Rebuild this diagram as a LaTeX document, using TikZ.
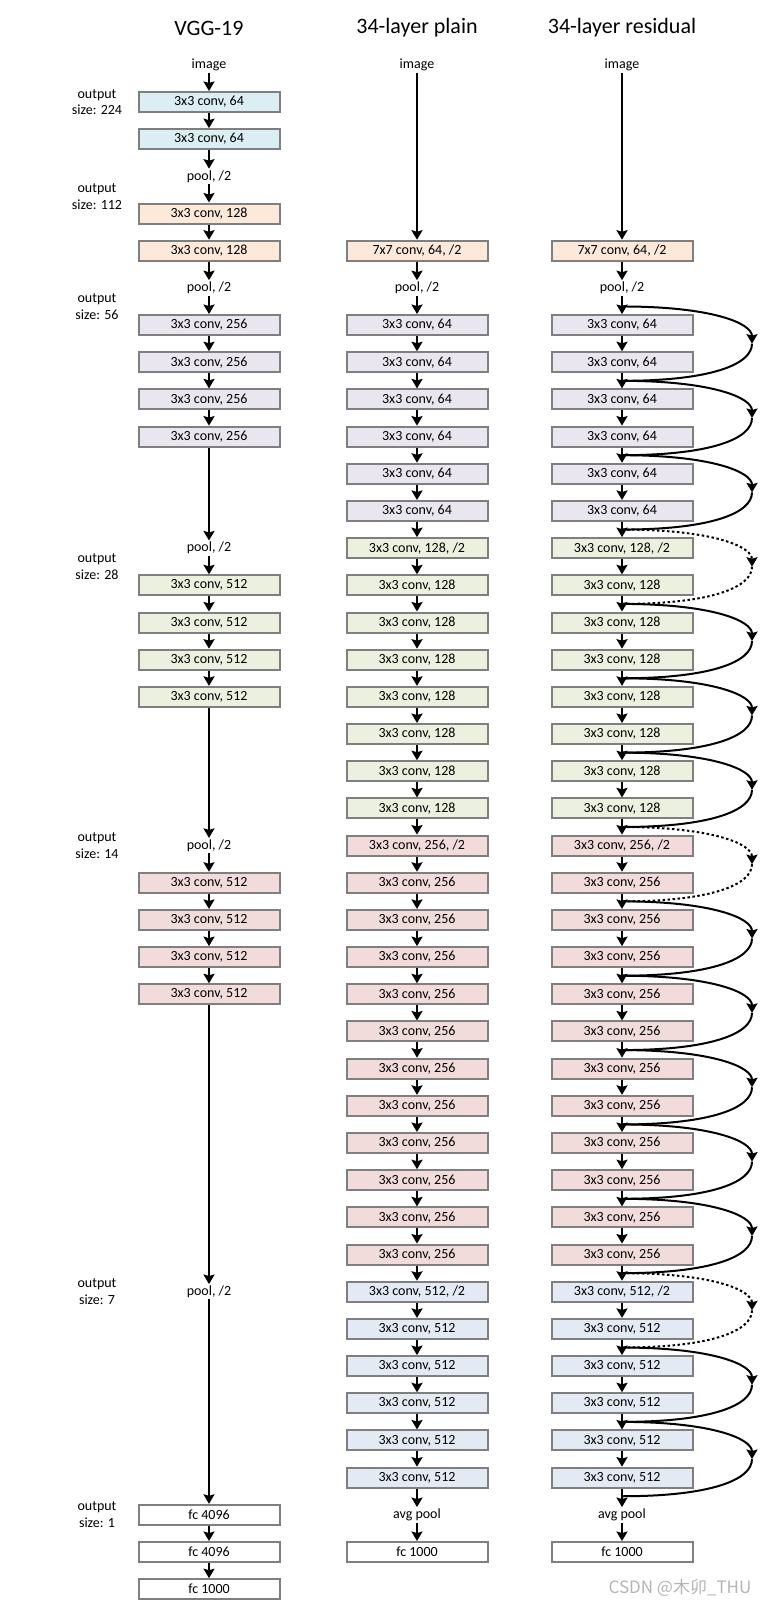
\documentclass[tikz,border=0pt]{standalone}
\usepackage{fontspec}
\setmainfont{Carlito}
\newfontfamily\cjk{Noto Sans CJK SC}
\usetikzlibrary{arrows.meta}

\def \colV {209}
\def \colP {417}
\def \colR {622}
\def \colS {752}
\def \colO {97}

\definecolor{boxgray}{HTML}{7F7F7F}
\definecolor{cblue}{HTML}{DAEEF3}
\definecolor{corange}{HTML}{FDE9D9}
\definecolor{clav}{HTML}{E9E6EF}
\definecolor{cgreen}{HTML}{EBF1DE}
\definecolor{cpink}{HTML}{F2DCDB}
\definecolor{csteel}{HTML}{E4EAF3}
\definecolor{wmgray}{HTML}{B4B4B4}

\tikzset{
  layer/.style={draw=boxgray, line width=2pt, minimum width=141pt, minimum height=20pt,
                inner sep=0pt, font=\fontsize{14}{16}\selectfont},
  lbl/.style={inner sep=1.5pt, font=\fontsize{14}{16}\selectfont},
  outsize/.style={align=center, inner sep=0pt, font=\fontsize{14}{16.5}\selectfont},
  title/.style={font=\fontsize{22}{26}\selectfont},
  flow/.style={line width=2pt, -{Stealth[width=11pt,length=9.5pt,inset=1.5pt]}},
  skipline/.style={line width=2pt},
  skiparrow/.style={skipline, -{Stealth[width=11pt,length=9.5pt,inset=1.5pt]}},
  proj/.style={dash pattern=on 2.5pt off 2.5pt}
}

\begin{document}
\begin{tikzpicture}[x=1pt, y=-37.18pt]
  \useasboundingbox (0,-1.743) rectangle (773,41.506);

  % titles
  \node[title] (tV) at (\colV,-0.99) {VGG-19};
  \node[title] (tP) at (\colP,-0.99) {34-layer plain};
  \node[title] (tR) at (\colR,-0.99) {34-layer residual};

  % output sizes
  \node[outsize] (o224) at (\colO,1) {output\\size: 224};
  \node[outsize] (o112) at (\colO,3.55) {output\\size: 112};
  \node[outsize] (o56) at (\colO,6.5) {output\\size: 56};
  \node[outsize] (o28) at (\colO,13.5) {output\\size: 28};
  \node[outsize] (o14) at (\colO,21) {output\\size: 14};
  \node[outsize] (o7) at (\colO,33) {output\\size: 7};
  \node[outsize] (o1) at (\colO,39) {output\\size: 1};

  % VGG-19
  \node[lbl] (v0) at (\colV,0) {image};
  \node[layer, fill=cblue] (v1) at (\colV,1) {3x3 conv, 64};
  \node[layer, fill=cblue] (v2) at (\colV,2) {3x3 conv, 64};
  \node[lbl] (v3) at (\colV,3) {pool, /2};
  \node[layer, fill=corange] (v4) at (\colV,4) {3x3 conv, 128};
  \node[layer, fill=corange] (v5) at (\colV,5) {3x3 conv, 128};
  \node[lbl] (v6) at (\colV,6) {pool, /2};
  \node[layer, fill=clav] (v7) at (\colV,7) {3x3 conv, 256};
  \node[layer, fill=clav] (v8) at (\colV,8) {3x3 conv, 256};
  \node[layer, fill=clav] (v9) at (\colV,9) {3x3 conv, 256};
  \node[layer, fill=clav] (v10) at (\colV,10) {3x3 conv, 256};
  \node[lbl] (v13) at (\colV,13) {pool, /2};
  \node[layer, fill=cgreen] (v14) at (\colV,14) {3x3 conv, 512};
  \node[layer, fill=cgreen] (v15) at (\colV,15) {3x3 conv, 512};
  \node[layer, fill=cgreen] (v16) at (\colV,16) {3x3 conv, 512};
  \node[layer, fill=cgreen] (v17) at (\colV,17) {3x3 conv, 512};
  \node[lbl] (v21) at (\colV,21) {pool, /2};
  \node[layer, fill=cpink] (v22) at (\colV,22) {3x3 conv, 512};
  \node[layer, fill=cpink] (v23) at (\colV,23) {3x3 conv, 512};
  \node[layer, fill=cpink] (v24) at (\colV,24) {3x3 conv, 512};
  \node[layer, fill=cpink] (v25) at (\colV,25) {3x3 conv, 512};
  \node[lbl] (v33) at (\colV,33) {pool, /2};
  \node[layer, fill=white] (v39) at (\colV,39) {fc 4096};
  \node[layer, fill=white] (v40) at (\colV,40) {fc 4096};
  \node[layer, fill=white] (v41) at (\colV,41) {fc 1000};

  % 34-layer plain
  \node[lbl] (p0) at (\colP,0) {image};
  \node[layer, fill=corange] (p5) at (\colP,5) {7x7 conv, 64, /2};
  \node[lbl] (p6) at (\colP,6) {pool, /2};
  \node[layer, fill=clav] (p7) at (\colP,7) {3x3 conv, 64};
  \node[layer, fill=clav] (p8) at (\colP,8) {3x3 conv, 64};
  \node[layer, fill=clav] (p9) at (\colP,9) {3x3 conv, 64};
  \node[layer, fill=clav] (p10) at (\colP,10) {3x3 conv, 64};
  \node[layer, fill=clav] (p11) at (\colP,11) {3x3 conv, 64};
  \node[layer, fill=clav] (p12) at (\colP,12) {3x3 conv, 64};
  \node[layer, fill=cgreen] (p13) at (\colP,13) {3x3 conv, 128, /2};
  \node[layer, fill=cgreen] (p14) at (\colP,14) {3x3 conv, 128};
  \node[layer, fill=cgreen] (p15) at (\colP,15) {3x3 conv, 128};
  \node[layer, fill=cgreen] (p16) at (\colP,16) {3x3 conv, 128};
  \node[layer, fill=cgreen] (p17) at (\colP,17) {3x3 conv, 128};
  \node[layer, fill=cgreen] (p18) at (\colP,18) {3x3 conv, 128};
  \node[layer, fill=cgreen] (p19) at (\colP,19) {3x3 conv, 128};
  \node[layer, fill=cgreen] (p20) at (\colP,20) {3x3 conv, 128};
  \node[layer, fill=cpink] (p21) at (\colP,21) {3x3 conv, 256, /2};
  \node[layer, fill=cpink] (p22) at (\colP,22) {3x3 conv, 256};
  \node[layer, fill=cpink] (p23) at (\colP,23) {3x3 conv, 256};
  \node[layer, fill=cpink] (p24) at (\colP,24) {3x3 conv, 256};
  \node[layer, fill=cpink] (p25) at (\colP,25) {3x3 conv, 256};
  \node[layer, fill=cpink] (p26) at (\colP,26) {3x3 conv, 256};
  \node[layer, fill=cpink] (p27) at (\colP,27) {3x3 conv, 256};
  \node[layer, fill=cpink] (p28) at (\colP,28) {3x3 conv, 256};
  \node[layer, fill=cpink] (p29) at (\colP,29) {3x3 conv, 256};
  \node[layer, fill=cpink] (p30) at (\colP,30) {3x3 conv, 256};
  \node[layer, fill=cpink] (p31) at (\colP,31) {3x3 conv, 256};
  \node[layer, fill=cpink] (p32) at (\colP,32) {3x3 conv, 256};
  \node[layer, fill=csteel] (p33) at (\colP,33) {3x3 conv, 512, /2};
  \node[layer, fill=csteel] (p34) at (\colP,34) {3x3 conv, 512};
  \node[layer, fill=csteel] (p35) at (\colP,35) {3x3 conv, 512};
  \node[layer, fill=csteel] (p36) at (\colP,36) {3x3 conv, 512};
  \node[layer, fill=csteel] (p37) at (\colP,37) {3x3 conv, 512};
  \node[layer, fill=csteel] (p38) at (\colP,38) {3x3 conv, 512};
  \node[lbl] (p39) at (\colP,39) {avg pool};
  \node[layer, fill=white] (p40) at (\colP,40) {fc 1000};

  % 34-layer residual
  \node[lbl] (r0) at (\colR,0) {image};
  \node[layer, fill=corange] (r5) at (\colR,5) {7x7 conv, 64, /2};
  \node[lbl] (r6) at (\colR,6) {pool, /2};
  \node[layer, fill=clav] (r7) at (\colR,7) {3x3 conv, 64};
  \node[layer, fill=clav] (r8) at (\colR,8) {3x3 conv, 64};
  \node[layer, fill=clav] (r9) at (\colR,9) {3x3 conv, 64};
  \node[layer, fill=clav] (r10) at (\colR,10) {3x3 conv, 64};
  \node[layer, fill=clav] (r11) at (\colR,11) {3x3 conv, 64};
  \node[layer, fill=clav] (r12) at (\colR,12) {3x3 conv, 64};
  \node[layer, fill=cgreen] (r13) at (\colR,13) {3x3 conv, 128, /2};
  \node[layer, fill=cgreen] (r14) at (\colR,14) {3x3 conv, 128};
  \node[layer, fill=cgreen] (r15) at (\colR,15) {3x3 conv, 128};
  \node[layer, fill=cgreen] (r16) at (\colR,16) {3x3 conv, 128};
  \node[layer, fill=cgreen] (r17) at (\colR,17) {3x3 conv, 128};
  \node[layer, fill=cgreen] (r18) at (\colR,18) {3x3 conv, 128};
  \node[layer, fill=cgreen] (r19) at (\colR,19) {3x3 conv, 128};
  \node[layer, fill=cgreen] (r20) at (\colR,20) {3x3 conv, 128};
  \node[layer, fill=cpink] (r21) at (\colR,21) {3x3 conv, 256, /2};
  \node[layer, fill=cpink] (r22) at (\colR,22) {3x3 conv, 256};
  \node[layer, fill=cpink] (r23) at (\colR,23) {3x3 conv, 256};
  \node[layer, fill=cpink] (r24) at (\colR,24) {3x3 conv, 256};
  \node[layer, fill=cpink] (r25) at (\colR,25) {3x3 conv, 256};
  \node[layer, fill=cpink] (r26) at (\colR,26) {3x3 conv, 256};
  \node[layer, fill=cpink] (r27) at (\colR,27) {3x3 conv, 256};
  \node[layer, fill=cpink] (r28) at (\colR,28) {3x3 conv, 256};
  \node[layer, fill=cpink] (r29) at (\colR,29) {3x3 conv, 256};
  \node[layer, fill=cpink] (r30) at (\colR,30) {3x3 conv, 256};
  \node[layer, fill=cpink] (r31) at (\colR,31) {3x3 conv, 256};
  \node[layer, fill=cpink] (r32) at (\colR,32) {3x3 conv, 256};
  \node[layer, fill=csteel] (r33) at (\colR,33) {3x3 conv, 512, /2};
  \node[layer, fill=csteel] (r34) at (\colR,34) {3x3 conv, 512};
  \node[layer, fill=csteel] (r35) at (\colR,35) {3x3 conv, 512};
  \node[layer, fill=csteel] (r36) at (\colR,36) {3x3 conv, 512};
  \node[layer, fill=csteel] (r37) at (\colR,37) {3x3 conv, 512};
  \node[layer, fill=csteel] (r38) at (\colR,38) {3x3 conv, 512};
  \node[lbl] (r39) at (\colR,39) {avg pool};
  \node[layer, fill=white] (r40) at (\colR,40) {fc 1000};

  % main flow arrows
  \foreach \a/\b in {0/1,1/2,2/3,3/4,4/5,5/6,6/7,7/8,8/9,9/10,10/13,13/14,14/15,15/16,16/17,
                     17/21,21/22,22/23,23/24,24/25,25/33,33/39,39/40,40/41}
    \draw[flow] (v\a) -- (v\b);
  \foreach \col in {p,r} {
    \draw[flow] (\col0) -- (\col5);
    \foreach \i in {5,...,39} {
      \pgfmathtruncatemacro\j{\i+1}
      \draw[flow] (\col\i) -- (\col\j);
    }
  }

  % shortcuts
  \foreach \a in {7,9,11,13,15,17,19,21,23,25,27,29,31,33,35,37} {
    \coordinate (s\a) at (\colR,\a-0.5);
    \coordinate (m\a) at (\colS,\a+0.5);
    \coordinate (e\a) at (\colR,\a+1.5);
  }
  \foreach \a in {7,9,11,15,17,19,23,25,27,29,31,35,37} {
    \draw[skiparrow] (s\a) .. controls +(90,0) and +(0,-0.55) .. (m\a);
    \draw[skipline] (m\a) .. controls +(0,0.55) and +(90,0) .. (e\a);
  }
  \foreach \a in {13,21,33} {
    \draw[skiparrow, proj] (s\a) .. controls +(90,0) and +(0,-0.55) .. (m\a);
    \draw[skipline, proj] (m\a) .. controls +(0,0.55) and +(90,0) .. (e\a);
  }

  \node[text=wmgray, font=\cjk\fontsize{17}{20}\selectfont] (wm) at (680,40.97) {CSDN @木卯\_THU};
\end{tikzpicture}
\end{document}
